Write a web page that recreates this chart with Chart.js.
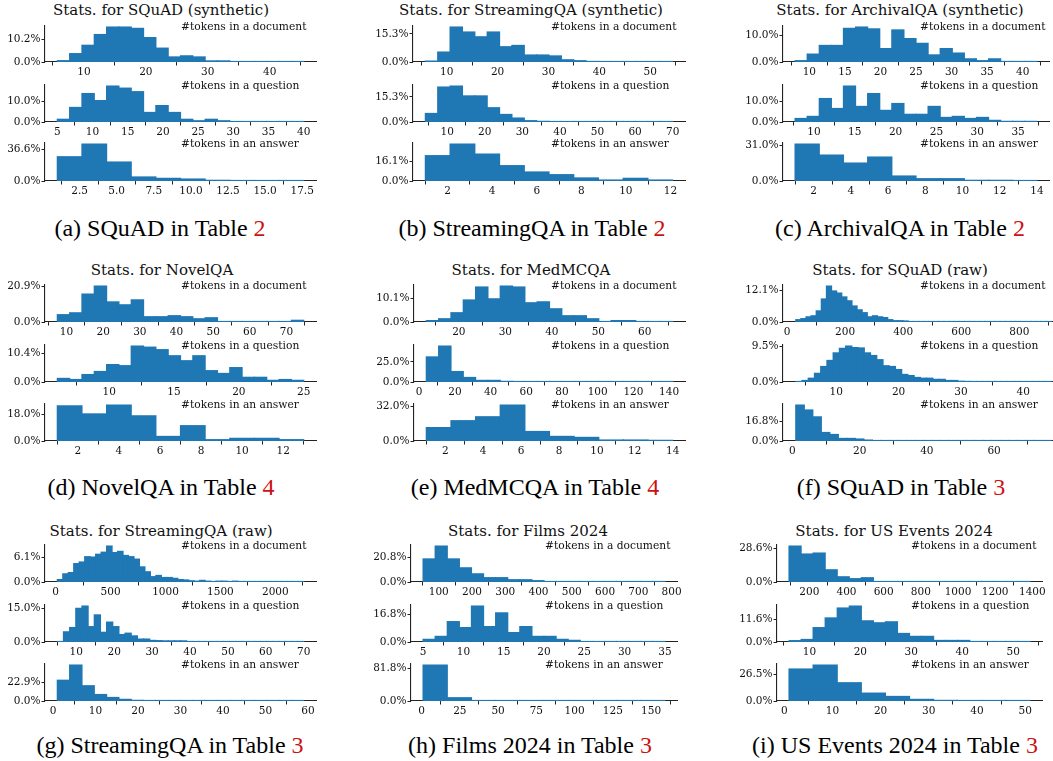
<!DOCTYPE html>
<html>
<head>
<meta charset="utf-8">
<script src="https://cdn.jsdelivr.net/npm/chart.js@4.4.1/dist/chart.umd.min.js"></script>
<style>
  html, body { margin: 0; padding: 0; background: #fff; }
  #page { position: relative; width: 1053px; height: 761px; overflow: hidden; }
  .sub { position: absolute; }
  .title { position: absolute; font-family: "DejaVu Serif", "Liberation Serif", serif; font-size: 15px; color: #111; white-space: nowrap; transform: translate(-50%, -50%); }
  .cap { position: absolute; font-family: "Liberation Serif", serif; font-size: 24px; color: #000; white-space: nowrap; transform: translate(-50%, -50%); }
  .cap .ref { color: #cc1111; }
</style>
</head>
<body>
<div id="page"></div>
<script>
// ── DATOS (porcentaje por bin) ─────────────────────────────
const subLabels = ["#tokens in a document", "#tokens in a question", "#tokens in an answer"];

// (a) SQuAD (synthetic)
const squadSynDoc = [0.6, 3.8, 7.6, 12.5, 15.9, 15.9, 15.3, 11.1, 6.3, 2.3, 2.8, 2.3, 0.5, 0.5, 0.15, 0.15, 0.15, 0.1, 0.1, 0.15];
const squadSynQ   = [1.3, 7.0, 13.7, 10.3, 17.3, 16.3, 14.6, 4.6, 7.9, 4.6, 1.3, 0.6, 1.3, 0.6, 0.15, 0.1, 0.1, 0.05, 0.05, 0.1];
const squadSynAns = [28.4, 43.2, 22.2, 4.7, 3.1, 2.3, 0.8, 0.6, 0.3, 0.3];
const squadSynRanges = [[5.7, 45.5], [5, 40], [1, 17.6]];
const squadSynXTicks = [[10, 20, 30, 40], [5, 10, 15, 20, 25, 30, 35, 40], [2.5, 5, 7.5, 10, 12.5, 15, 17.5]];
const squadSynYTicks = [10.2, 10.0, 36.6];

// (b) StreamingQA (synthetic)
const streamSynDoc = [0.5, 5.4, 19.0, 16.3, 13.7, 16.3, 8.3, 9.0, 3.8, 3.8, 3.3, 1.2, 0.7, 0.3, 0.2, 0.2, 0.15, 0.1, 0.1, 0.1];
const streamSynQ   = [5.2, 21.3, 21.9, 15.9, 15.9, 8.7, 4.6, 2.4, 0.8, 0.4, 0.2, 0.1, 0.1, 0.05, 0.05, 0.05, 0.05, 0.05, 0.05, 0.05];
const streamSynAns = [20.8, 30.3, 22.1, 12.6, 7.4, 5.2, 2.5, 0.8, 2.2, 0.8];
const streamSynRanges = [[5.8, 54.4], [4.2, 70], [1, 12.1]];
const streamSynXTicks = [[10, 20, 30, 40, 50], [10, 20, 30, 40, 50, 60, 70], [2, 4, 6, 8, 10, 12]];
const streamSynYTicks = [15.3, 15.3, 16.1];

// (c) ArchivalQA (synthetic)
const archSynDoc = [0.5, 3.0, 6.3, 6.3, 12.8, 13.3, 12.6, 5.1, 12.2, 8.9, 7.1, 2.7, 5.1, 3.4, 1.2, 0.5, 1.2, 0.2, 0.2, 0.2];
const archSynQ   = [1.7, 2.7, 11.3, 6.5, 17.3, 7.5, 13.7, 5.6, 8.9, 3.7, 3.7, 7.5, 2.2, 2.7, 1.7, 2.2, 0.8, 0.3, 0.3, 0.3];
const archSynAns = [31.9, 22.4, 15.5, 20.7, 4.3, 2.0, 2.0, 0.6, 0.6, 0.4];
const archSynRanges = [[8, 42], [7.7, 37.3], [1, 14]];
const archSynXTicks = [[10, 15, 20, 25, 30, 35, 40], [10, 15, 20, 25, 30, 35], [2, 4, 6, 8, 10, 12, 14]];
const archSynYTicks = [10.0, 10.0, 31.0];

// (d) NovelQA
const novelDoc = [4.3, 5.4, 16.4, 21.1, 11.8, 10.1, 13.0, 3.1, 3.1, 3.7, 3.1, 1.9, 2.5, 0.2, 0.2, 0.2, 0.2, 0.2, 0.2, 1.0];
const novelQ   = [1.3, 0.9, 2.7, 3.8, 6.3, 5.9, 13.0, 12.6, 11.7, 9.5, 7.7, 9.5, 4.1, 3.1, 5.2, 1.7, 1.7, 0.6, 0.9, 0.6];
const novelAns = [23.8, 18.4, 24.4, 17.1, 3.1, 10.4, 0.9, 1.8, 1.8, 0.9];
const novelRanges = [[7.5, 74.7], [6, 25], [1, 13]];
const novelXTicks = [[10, 20, 30, 40, 50, 60, 70], [10, 15, 20, 25], [2, 4, 6, 8, 10, 12]];
const novelYTicks = [20.9, 10.4, 18.0];

// (e) MedMCQA
const medDoc = [0.6, 1.4, 4.0, 9.5, 15.1, 10.0, 15.5, 15.1, 8.3, 8.7, 5.7, 2.7, 2.7, 1.4, 0.2, 0.6, 0.6, 0.2, 0.2, 0.2];
const medQ   = [31.0, 44.4, 12.9, 5.6, 2.0, 2.0, 0.8, 0.3, 0.2, 0.15, 0.1, 0.1, 0.05, 0.05, 0.05, 0.05, 0.05, 0.05, 0.05, 0.05];
const medAns = [12.3, 18.6, 22.2, 32.9, 8.7, 4.2, 3.3, 0.9, 0.9, 0.6];
const medRanges = [[13, 66], [4, 142], [1, 14]];
const medXTicks = [[20, 30, 40, 50, 60], [0, 20, 40, 60, 80, 100, 120, 140], [2, 4, 6, 8, 10, 12, 14]];
const medYTicks = [10.1, 25.0, 32.0];

// (f) SQuAD (raw)
const squadRawDoc = [0.9, 1.3, 2.0, 2.4, 4.3, 8.9, 13.9, 12.0, 11.2, 9.7, 8.2, 6.2, 4.7, 3.6, 2.0, 2.4, 2.0, 1.7, 0.9, 0.5,
  0.5, 0.4, 0.1, 0.1, 0.1, 0.05, 0.05, 0.05, 0.05, 0.05, 0.03, 0.03, 0.03, 0.03, 0.03, 0.02, 0.02, 0.02, 0.02, 0.02,
  0.02, 0.01, 0.01, 0.01, 0.01, 0.01, 0.01, 0.01, 0.01, 0.01];
const squadRawQ = [0.1, 0.4, 1.0, 2.3, 4.1, 5.7, 7.7, 8.9, 9.5, 9.1, 9.0, 7.7, 7.0, 5.9, 4.3, 4.1, 3.3, 2.0, 1.7, 1.2,
  1.0, 1.0, 0.7, 0.7, 0.4, 0.4, 0.2, 0.15, 0.1, 0.1, 0.08, 0.06, 0.05, 0.04, 0.03, 0.03, 0.02, 0.02, 0.02, 0.01, 0.01];
const squadRawAns = [30.8, 26.6, 20.7, 7.3, 5.6, 2.2, 2.2, 1.7, 0.8, 0.3, 0.2, 0.2, 0.1, 0.1, 0.1,
  0.05, 0.05, 0.05, 0.05, 0.03, 0.03, 0.03, 0.02, 0.02, 0.02, 0.01, 0.01, 0.01, 0.01, 0.01];
const squadRawRanges = [[30, 910], [3.5, 44.5], [1, 77]];
const squadRawXTicks = [[0, 200, 400, 600, 800], [10, 20, 30, 40], [0, 20, 40, 60]];
const squadRawYTicks = [12.1, 9.5, 16.8];

// (g) StreamingQA (raw)
const streamRawDoc = [0.6, 2.0, 2.3, 4.5, 4.9, 6.2, 6.1, 6.8, 7.3, 8.8, 7.2, 7.5, 6.5, 6.2, 5.6, 3.7, 2.5, 1.3, 1.6, 1.1,
  1.1, 0.9, 0.6, 0.5, 0.3, 0.2, 0.4, 0.2, 0.1, 0.2, 0.2, 0.1, 0.2, 0.05, 0.05, 0.03, 0.03, 0.03, 0.02, 0.02,
  0.02, 0.01, 0.01, 0.01, 0.01];
const streamRawQ = [0.1, 4.5, 6.4, 14.9, 15.9, 6.8, 12.0, 4.3, 8.8, 6.8, 3.3, 3.9, 2.7, 1.3, 1.3, 0.7, 0.6, 0.5, 0.5, 0.5,
  0.5, 0.1, 0.1, 0.05, 0.05, 0.05, 0.05, 0.03, 0.03, 0.03, 0.02, 0.02, 0.02, 0.02, 0.01, 0.01, 0.01, 0.01, 0.01, 0.01];
const streamRawAns = [25.3, 43.8, 18.6, 7.9, 4.3, 2.0, 0.8, 0.6, 0.2, 0.1, 0.1, 0.05, 0.05, 0.05, 0.03, 0.03, 0.02, 0.02, 0.01, 0.01];
const streamRawRanges = [[15, 2258], [5, 70], [1, 59]];
const streamRawXTicks = [[0, 500, 1000, 1500, 2000], [10, 20, 30, 40, 50, 60, 70], [0, 10, 20, 30, 40, 50, 60]];
const streamRawYTicks = [6.1, 15.0, 22.9];

// (h) Films 2024
const filmsDoc = [19.2, 29.9, 19.2, 11.8, 6.8, 3.6, 3.6, 1.9, 1.9, 1.1, 0.4, 0.2, 0.1, 0.1, 0.05, 0.05, 0.05, 0.05, 0.03, 0.03];
const filmsQ   = [1.6, 3.4, 12.3, 8.7, 21.7, 9.3, 17.6, 5.7, 9.3, 3.4, 3.4, 1.6, 1.0, 0.2, 0.05, 0.05, 0.05, 0.03, 0.03, 0.03];
const filmsAns = [90.2, 8.2, 0.8, 0.3, 0.2, 0.1, 0.1, 0.05, 0.03, 0.02];
const filmsRanges = [[53, 780], [5, 35], [1, 159]];
const filmsXTicks = [[100, 200, 300, 400, 500, 600, 700, 800], [5, 10, 15, 20, 25, 30, 35], [0, 25, 50, 75, 100, 125, 150]];
const filmsYTicks = [20.8, 16.8, 81.8];

// (i) US Events 2024
const usDoc = [30.3, 23.6, 24.4, 10.3, 4.4, 2.8, 3.6, 0.3, 0.1, 0.05, 0.05, 0.03, 0.03, 0.02, 0.02, 0.02, 0.01, 0.01, 0.01, 0.01];
const usQ   = [0.7, 1.3, 7.4, 12.4, 17.5, 18.5, 10.9, 9.9, 10.4, 4.4, 2.9, 2.9, 0.8, 0.8, 0.8, 0.2, 0.1, 0.05, 0.05, 0.05];
const usAns = [31.7, 35.6, 18.1, 7.8, 4.5, 1.6, 0.6, 0.3, 0.2, 0.2];
const usRanges = [[91, 1387], [6, 53.3], [1, 51]];
const usXTicks = [[200, 400, 600, 800, 1000, 1200, 1400], [10, 20, 30, 40, 50], [0, 10, 20, 30, 40, 50]];
const usYTicks = [28.6, 11.6, 26.5];

const panels = [
  { title: "Stats. for SQuAD (synthetic)", caption: "(a) SQuAD in Table ", ref: "2",
    series: [squadSynDoc, squadSynQ, squadSynAns], ranges: squadSynRanges, xTicks: squadSynXTicks, yTicks: squadSynYTicks },
  { title: "Stats. for StreamingQA (synthetic)", caption: "(b) StreamingQA in Table ", ref: "2",
    series: [streamSynDoc, streamSynQ, streamSynAns], ranges: streamSynRanges, xTicks: streamSynXTicks, yTicks: streamSynYTicks },
  { title: "Stats. for ArchivalQA (synthetic)", caption: "(c) ArchivalQA in Table ", ref: "2",
    series: [archSynDoc, archSynQ, archSynAns], ranges: archSynRanges, xTicks: archSynXTicks, yTicks: archSynYTicks },
  { title: "Stats. for NovelQA", caption: "(d) NovelQA in Table ", ref: "4",
    series: [novelDoc, novelQ, novelAns], ranges: novelRanges, xTicks: novelXTicks, yTicks: novelYTicks },
  { title: "Stats. for MedMCQA", caption: "(e) MedMCQA in Table ", ref: "4",
    series: [medDoc, medQ, medAns], ranges: medRanges, xTicks: medXTicks, yTicks: medYTicks },
  { title: "Stats. for SQuAD (raw)", caption: "(f) SQuAD in Table ", ref: "3",
    series: [squadRawDoc, squadRawQ, squadRawAns], ranges: squadRawRanges, xTicks: squadRawXTicks, yTicks: squadRawYTicks },
  { title: "Stats. for StreamingQA (raw)", caption: "(g) StreamingQA in Table ", ref: "3",
    series: [streamRawDoc, streamRawQ, streamRawAns], ranges: streamRawRanges, xTicks: streamRawXTicks, yTicks: streamRawYTicks },
  { title: "Stats. for Films 2024", caption: "(h) Films 2024 in Table ", ref: "3",
    series: [filmsDoc, filmsQ, filmsAns], ranges: filmsRanges, xTicks: filmsXTicks, yTicks: filmsYTicks },
  { title: "Stats. for US Events 2024", caption: "(i) US Events 2024 in Table ", ref: "3",
    series: [usDoc, usQ, usAns], ranges: usRanges, xTicks: usXTicks, yTicks: usYTicks },
];

// ── LAYOUT (px) ────────────────────────────────────────────
const rows = [
  { titleY: 10,  capY: 228, subs: [[26, 62], [85, 122], [143, 181]] },
  { titleY: 270, capY: 487, subs: [[285, 322], [345, 382], [404, 441]] },
  { titleY: 531, capY: 745, subs: [[545, 582], [605, 642], [664, 701]] },
];
const panelLayout = [
  { row: 0, axL: 45,  axR: 316,  labX: 181, titleX: 161, capX: 160 },
  { row: 0, axL: 413, axR: 685,  labX: 551, titleX: 531, capX: 532 },
  { row: 0, axL: 783, axR: 1049, labX: 920, titleX: 900, capX: 900 },
  { row: 1, axL: 45,  axR: 316,  labX: 181, titleX: 162, capX: 161 },
  { row: 1, axL: 414, axR: 685,  labX: 551, titleX: 531, capX: 535 },
  { row: 1, axL: 783, axR: 1064, labX: 920, titleX: 900, capX: 901 },
  { row: 2, axL: 45,  axR: 316,  labX: 181, titleX: 161, capX: 170 },
  { row: 2, axL: 411, axR: 677,  labX: 545, titleX: 528, capX: 530 },
  { row: 2, axL: 777, axR: 1042, labX: 911, titleX: 894, capX: 895 },
];

const BLUE = "#1f77b4";
const INK = "#111";
const SERIF = '"DejaVu Serif", "Liberation Serif", serif';
const YW = 46, PT = 10, XH = 20, PR = 16;
const page = document.getElementById("page");

// etiqueta "#tokens in ..." dentro del eje
const subLabelPlugin = {
  id: "subLabel",
  afterDraw(chart, args, opts) {
    const ctx = chart.ctx;
    ctx.save();
    ctx.font = "10.7px " + SERIF;
    ctx.fillStyle = INK;
    ctx.textAlign = "left";
    ctx.textBaseline = "middle";
    ctx.fillText(opts.text, opts.x, chart.chartArea.top + 1);
    ctx.restore();
  }
};

function addText(cls, x, y, html) {
  const d = document.createElement("div");
  d.className = cls;
  d.style.left = x + "px";
  d.style.top = y + "px";
  d.innerHTML = html;
  page.appendChild(d);
}

function makeHist(vals, range, xt, yt, label, L, top, bottom) {
  const [lo, hi] = range;
  const w = (hi - lo) / vals.length;
  const m = 0.05 * (hi - lo);
  const pts = vals.map((v, i) => ({ x: lo + w * (i + 0.5), y: v }));
  const ymax = Math.max(...vals) * 1.03;

  const left = L.axL - YW, cTop = top - PT;
  const W = (L.axR - L.axL) + YW + PR;
  const H = (bottom - top) + PT + XH;

  const div = document.createElement("div");
  div.className = "sub";
  div.style.left = left + "px";
  div.style.top = cTop + "px";
  const canvas = document.createElement("canvas");
  canvas.width = W; canvas.height = H;
  canvas.style.width = W + "px"; canvas.style.height = H + "px";
  div.appendChild(canvas);
  page.appendChild(div);

  const dec = xt.some(v => !Number.isInteger(v)) ? 1 : 0;
  const font = { family: SERIF, size: 10.5 };

  new Chart(canvas, {
    type: "bar",
    data: { datasets: [{ data: pts, backgroundColor: BLUE, borderWidth: 0, inflateAmount: 0.6,
                         barPercentage: 1, categoryPercentage: 1 }] },
    options: {
      responsive: false,
      animation: false,
      events: [],
      layout: { padding: { left: 0, right: PR, top: PT, bottom: 0 } },
      plugins: {
        legend: { display: false },
        tooltip: { enabled: false },
        subLabel: { text: label, x: L.labX - left }
      },
      scales: {
        x: {
          type: "linear", min: lo - m, max: hi + m, offset: false, z: 1,
          grid: { display: true, drawOnChartArea: false, drawTicks: true, tickLength: 3.5, color: "#222", lineWidth: 1 },
          border: { display: true, color: "#222", width: 1.1 },
          ticks: { autoSkip: false, maxRotation: 0, padding: 0, color: INK, font, callback: v => Number(v).toFixed(dec) },
          afterBuildTicks: s => { s.ticks = xt.map(v => ({ value: v })); },
          afterFit: s => { s.height = XH; }
        },
        y: {
          min: 0, max: ymax, z: 1,
          grid: { display: true, drawOnChartArea: false, drawTicks: true, tickLength: 3.5, color: "#222", lineWidth: 1 },
          border: { display: true, color: "#222", width: 1.1 },
          ticks: { autoSkip: false, padding: 1, color: INK, font, callback: v => Number(v).toFixed(1) + "%" },
          afterBuildTicks: s => { s.ticks = [{ value: 0 }, { value: yt }]; },
          afterFit: s => { s.width = YW; }
        }
      }
    },
    plugins: [subLabelPlugin]
  });
}

panels.forEach((p, k) => {
  const L = panelLayout[k];
  const R = rows[L.row];
  addText("title", L.titleX, R.titleY, p.title);
  addText("cap", L.capX, R.capY, p.caption + '<span class="ref">' + p.ref + "</span>");
  p.series.forEach((vals, j) => {
    const [top, bottom] = R.subs[j];
    makeHist(vals, p.ranges[j], p.xTicks[j], p.yTicks[j], subLabels[j], L, top, bottom);
  });
});
</script>
</body>
</html>
